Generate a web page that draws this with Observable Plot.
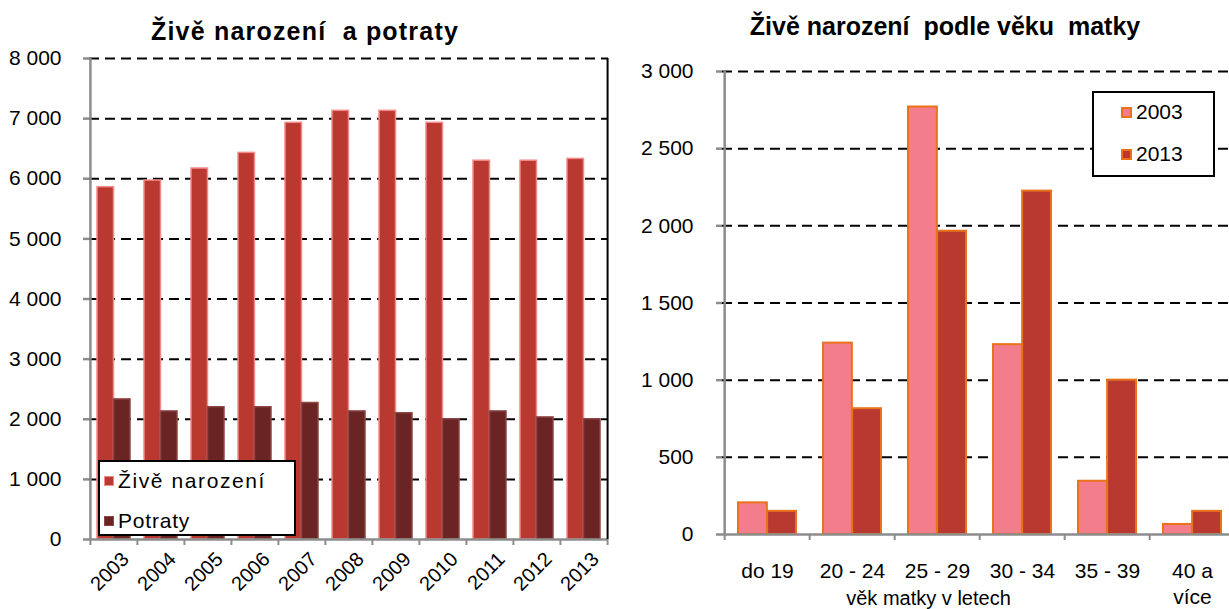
<!DOCTYPE html>
<html><head><meta charset="utf-8">
<script src="https://cdn.jsdelivr.net/npm/d3@7"></script>
<script src="https://cdn.jsdelivr.net/npm/@observablehq/plot@0.6"></script>
<style>
body{margin:0;width:1229px;height:609px;overflow:hidden;background:#fff;font-family:"Liberation Sans",Arial,sans-serif;position:relative}
.panel{position:absolute;top:0;height:609px}
.panel svg{display:block;overflow:hidden}
.title{font-weight:bold;font-size:25px;line-height:25px;text-align:center;white-space:pre;height:46px;box-sizing:border-box}
.legend{position:absolute;background:#fff;border:2px solid #000;box-sizing:border-box;font-size:21px}
.item{position:absolute;height:24px;line-height:24px;display:flex;align-items:center;white-space:pre}
.sw{display:inline-block;width:10px;height:10px;margin-right:4px;box-sizing:border-box}
</style></head><body>
<div id="left" class="panel" style="left:0;width:620px"><div class="title" style="width:610px;padding-top:19px;letter-spacing:1.2px">Živě narození  a potraty</div></div>
<div id="right" class="panel" style="left:620px;width:620px"><div class="title" style="width:650px;padding-top:14px">Živě narození  podle věku  matky</div></div>
<div class="legend" style="left:98px;top:460px;width:198px;height:76px">
  <div class="item" style="left:4px;top:7px"><span class="sw" style="background:#b93830;border:1px solid #f4898b"></span><span style="letter-spacing:1.6px">Živě narození</span></div>
  <div class="item" style="left:4px;top:47px"><span class="sw" style="background:#6a2424;border:1px solid #8a4545"></span><span style="letter-spacing:0.8px">Potraty</span></div>
</div>
<div class="legend" style="left:1092px;top:91px;width:123px;height:86px">
  <div class="item" style="left:27px;top:7px"><span class="sw" style="background:#f47d8b;border:2px solid #e8731b;width:11px;height:11px"></span>2003</div>
  <div class="item" style="left:27px;top:49px"><span class="sw" style="background:#b93830;border:2px solid #e8731b;width:11px;height:11px"></span>2013</div>
</div>
<script>
// ---- Left chart data ----
const years = ["2003","2004","2005","2006","2007","2008","2009","2010","2011","2012","2013"];
const liveBirths = [5860, 5970, 6170, 6430, 6930, 7130, 7130, 6930, 6300, 6300, 6330];
const abortions = [2330, 2130, 2200, 2200, 2270, 2130, 2100, 2000, 2130, 2030, 2000];
const leftTicks = [0, 1000, 2000, 3000, 4000, 5000, 6000, 7000, 8000];

// ---- Right chart data ----
const ageGroups = ["do 19", "20 - 24", "25 - 29", "30 - 34", "35 - 39", "40 a více"];
const births2003 = [205, 1240, 2770, 1230, 345, 65];
const births2013 = [150, 815, 1965, 2225, 1000, 150];
const rightTicks = [0, 500, 1000, 1500, 2000, 2500, 3000];
const axisTitle = "věk matky v letech";

const fmt = d => d3.format(",")(d).replace(/,/g, " ");
const FONT = '"Liberation Sans", Arial, sans-serif';
const GRAY = "#8c8c8c";

// ---- Left plot ----
{
  const W = 620, H = 563, ML = 89, MR = 12, MT = 12, MB = 70;
  const PI = 0.3, PO = 0.15;
  const step = (W - ML - MR) / (years.length - PI + 2 * PO);
  const bw = step * (1 - PI);
  const data = years.map((y, i) => ({year: y, live: liveBirths[i], ab: abortions[i]}));
  const chart = Plot.plot({
    width: W, height: H, marginLeft: ML, marginRight: MR, marginTop: MT, marginBottom: MB,
    style: {fontFamily: FONT, fontSize: "21px", color: "black", background: "white"},
    x: {type: "band", domain: years, paddingInner: PI, paddingOuter: PO},
    y: {domain: [0, 8000]},
    marks: [
      Plot.ruleY(leftTicks.filter(v => v > 0), {stroke: "black", strokeWidth: 2, strokeDasharray: "10,6"}),
      Plot.barY(data, {x: "year", y: "live", fill: "#b93830", stroke: "#f4898b", strokeWidth: 1.5, insetRight: bw / 2}),
      Plot.barY(data, {x: "year", y: "ab", fill: "#6a2424", stroke: "#8a4545", strokeWidth: 1.5, insetLeft: bw / 2}),
      Plot.ruleY([0], {stroke: GRAY, strokeWidth: 2.5}),
      Plot.ruleX([years[0]], {dx: -step / 2, stroke: GRAY, strokeWidth: 2.5}),
      Plot.ruleX([years[years.length - 1]], {dx: step / 2, stroke: "black", strokeWidth: 2}),
      Plot.axisY(leftTicks, {tickSize: 6, tickPadding: 22, tickFormat: fmt, stroke: GRAY, strokeWidth: 2.5, fontSize: 21, label: null}),
      Plot.axisX(years, {tickSize: 6, fill: "none", stroke: GRAY, strokeWidth: 2, dx: -step / 2, label: null}),
      Plot.axisX([years[years.length - 1]], {tickSize: 6, fill: "none", stroke: GRAY, strokeWidth: 2, dx: step / 2, label: null}),
      Plot.text(years, {x: d => d, frameAnchor: "bottom", rotate: -45, textAnchor: "end", lineAnchor: "bottom", dx: 16, dy: 21, fontSize: 20})
    ]
  });
  document.getElementById("left").appendChild(chart);
}

// ---- Right plot ----
{
  const W = 620, H = 563, ML = 102, MR = 4, MT = 25, MB = 75;
  const PI = 0.32, PO = 0.16;
  const step = (W - ML - MR) / (ageGroups.length - PI + 2 * PO);
  const bw = step * (1 - PI);
  const data = ageGroups.map((g, i) => ({age: g, a: births2003[i], b: births2013[i]}));
  const chart = Plot.plot({
    width: W, height: H, marginLeft: ML, marginRight: MR, marginTop: MT, marginBottom: MB,
    style: {fontFamily: FONT, fontSize: "21px", color: "black", background: "white"},
    x: {type: "band", domain: ageGroups, paddingInner: PI, paddingOuter: PO},
    y: {domain: [0, 3000]},
    marks: [
      Plot.ruleY(rightTicks.filter(v => v > 0), {stroke: "black", strokeWidth: 2, strokeDasharray: "10,6"}),
      Plot.barY(data, {x: "age", y: "a", fill: "#f47d8b", stroke: "#e8731b", strokeWidth: 2, insetRight: bw / 2}),
      Plot.barY(data, {x: "age", y: "b", fill: "#b93830", stroke: "#e8731b", strokeWidth: 2, insetLeft: bw / 2}),
      Plot.ruleY([0], {stroke: GRAY, strokeWidth: 2.5}),
      Plot.ruleX([ageGroups[0]], {dx: -step / 2, stroke: GRAY, strokeWidth: 2.5}),
      Plot.axisY(rightTicks, {tickSize: 6, tickPadding: 23, tickFormat: fmt, stroke: GRAY, strokeWidth: 2.5, fontSize: 21, label: null}),
      Plot.axisX(ageGroups, {tickSize: 6, fill: "none", stroke: GRAY, strokeWidth: 2, dx: -step / 2, label: null}),
      Plot.axisX(ageGroups, {tickSize: 0, tickPadding: 26, tickFormat: d => d.replace(" více", "\nvíce"), fontSize: 21, lineHeight: 1.2, label: null}),
      Plot.text([axisTitle], {frameAnchor: "bottom", lineAnchor: "bottom", dx: -51, dy: 70, fontSize: 20})
    ]
  });
  document.getElementById("right").appendChild(chart);
}
</script>
</body></html>
